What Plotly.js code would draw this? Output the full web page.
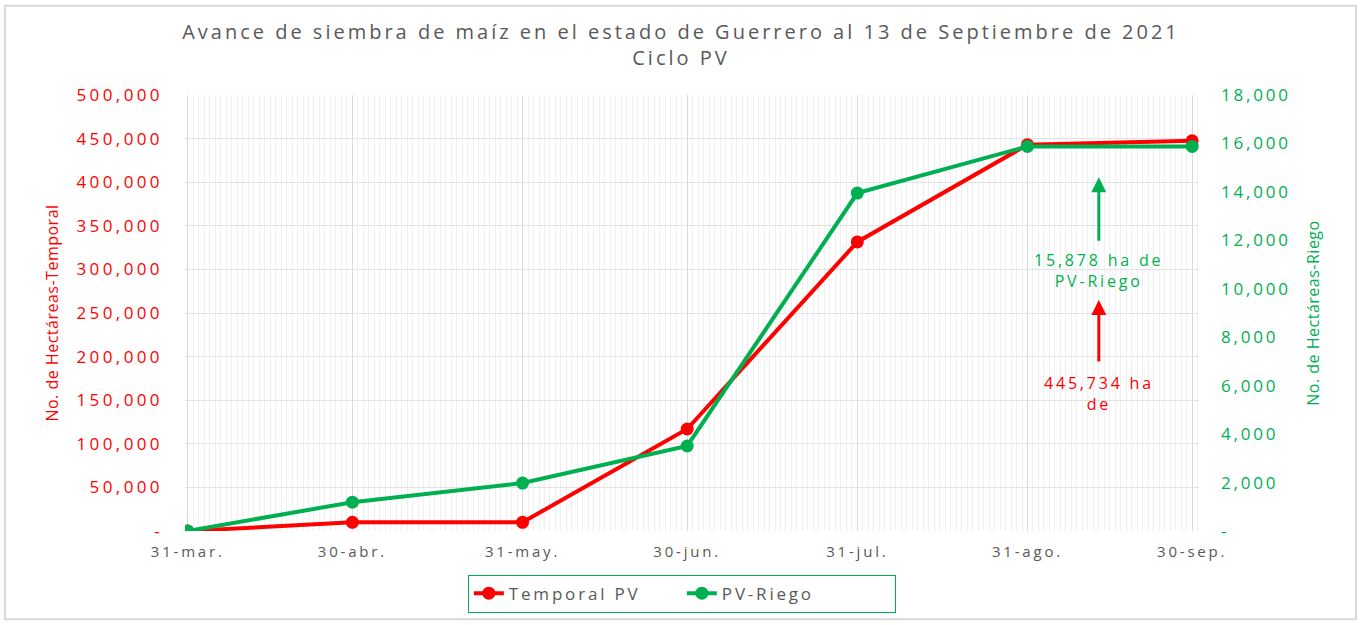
<!DOCTYPE html>
<html>
<head>
<meta charset="utf-8">
<script src="https://cdn.plot.ly/plotly-3.0.1.min.js"></script>
<style>
html,body{margin:0;padding:0;background:#fff;}
#chart{width:1362px;height:625px;}
svg text{letter-spacing:2.8px;}
svg text.gtitle{letter-spacing:3px;}
svg .ytick text{letter-spacing:3.4px;}
svg text.ytitle, svg text.y2title{letter-spacing:0.5px;}
</style>
</head>
<body>
<div id="chart"></div>
<script>
const fechas = ['2021-03-31','2021-04-30','2021-05-31','2021-06-30','2021-07-31','2021-08-31','2021-09-30'];
const fechaEtiquetas = ['31-mar.','30-abr.','31-may.','30-jun.','31-jul.','31-ago.','30-sep.'];
const temporalPV = [0, 10000, 10000, 117000, 331500, 443000, 447500];
const pvRiego = [0, 1190, 1980, 3510, 13950, 15878, 15878];
const yIzqVals = [0,50000,100000,150000,200000,250000,300000,350000,400000,450000,500000];
const yIzqText = ['-','50,000','100,000','150,000','200,000','250,000','300,000','350,000','400,000','450,000','500,000'];
const yDerVals = [0,2000,4000,6000,8000,10000,12000,14000,16000,18000];
const yDerText = ['-','2,000','4,000','6,000','8,000','10,000','12,000','14,000','16,000','18,000'];
const fechaCorte = '2021-09-13';
const textoRiego = '15,878 ha de<br>PV-Riego';
const textoTemporal = '445,734 ha<br>de';

const rojo = '#FF0000', verde = '#00B050', gris = '#595959';
const fuente = '"Open Sans", "DejaVu Sans", sans-serif';

const data = [
  {x: fechas, y: temporalPV, name: 'Temporal PV', type: 'scatter', mode: 'lines+markers',
   line: {color: rojo, width: 4}, marker: {color: rojo, size: 13}, yaxis: 'y'},
  {x: fechas, y: pvRiego, name: 'PV-Riego', type: 'scatter', mode: 'lines+markers',
   line: {color: verde, width: 4}, marker: {color: verde, size: 13}, yaxis: 'y2'}
];

const layout = {
  width: 1362, height: 625,
  margin: {l: 185, r: 163, t: 95, b: 90},
  paper_bgcolor: '#fff', plot_bgcolor: '#fff',
  font: {family: fuente, color: gris},
  title: {text: 'Avance de siembra de maíz en el estado de Guerrero al 13 de Septiembre de 2021<br>Ciclo PV',
          font: {size: 20, color: gris, family: fuente}, x: 0.5, xanchor: 'center', y: 0.937, yanchor: 'top'},
  showlegend: true,
  legend: {orientation: 'h', x: 0.49, xanchor: 'center', y: -0.1, yanchor: 'top',
           bordercolor: verde, borderwidth: 1, font: {size: 17, color: gris},
           entrywidth: 168, entrywidthmode: 'pixels'},
  xaxis: {type: 'date', range: ['2021-03-30 12:00', '2021-10-01 06:00'],
          tickvals: fechas, ticktext: fechaEtiquetas, tickfont: {size: 15, color: gris},
          showgrid: true, gridcolor: '#d9d9d9', gridwidth: 1, zeroline: false,
          ticks: '', showline: false, ticklabelstandoff: 10,
          minor: {dtick: 86400000, tick0: '2021-03-31', showgrid: true, gridcolor: '#f0f0f0', gridwidth: 1}},
  yaxis: {range: [0, 500000], tickvals: yIzqVals, ticktext: yIzqText,
          tickfont: {size: 17, color: rojo}, gridcolor: '#e3e3e3', zeroline: false, showline: false,
          ticks: '', ticklabelstandoff: 21,
          title: {text: 'No. de Hectáreas-Temporal', font: {size: 16, color: rojo}, standoff: 13}},
  yaxis2: {range: [0, 18000], overlaying: 'y', side: 'right', tickvals: yDerVals, ticktext: yDerText,
           tickfont: {size: 17, color: verde}, showgrid: false, zeroline: false, showline: false,
           ticks: '', ticklabelstandoff: 21,
           title: {text: 'No. de Hectáreas-Riego', font: {size: 16, color: verde}, standoff: 17}},
  annotations: [
    {x: fechaCorte, y: 405700, xref: 'x', yref: 'y', text: '', showarrow: true, arrowhead: 2,
     arrowsize: 1, arrowwidth: 3, arrowcolor: verde, ax: 0, ay: 65},
    {x: fechaCorte, y: 299000, xref: 'x', yref: 'y', text: textoRiego, showarrow: false,
     font: {size: 16, color: verde}},
    {x: fechaCorte, y: 264800, xref: 'x', yref: 'y', text: '', showarrow: true, arrowhead: 2,
     arrowsize: 1, arrowwidth: 3, arrowcolor: rojo, ax: 0, ay: 63},
    {x: fechaCorte, y: 158000, xref: 'x', yref: 'y', text: textoTemporal, showarrow: false,
     font: {size: 16, color: rojo}}
  ],
  shapes: [
    {type: 'rect', xref: 'paper', yref: 'paper', x0: -0.1775, x1: 1.1548, y0: -0.2023, y1: 1.2045,
     line: {color: '#d9d9d9', width: 2}, fillcolor: 'rgba(0,0,0,0)'}
  ]
};

Plotly.newPlot('chart', data, layout, {displayModeBar: false, staticPlot: true});
</script>
</body>
</html>
